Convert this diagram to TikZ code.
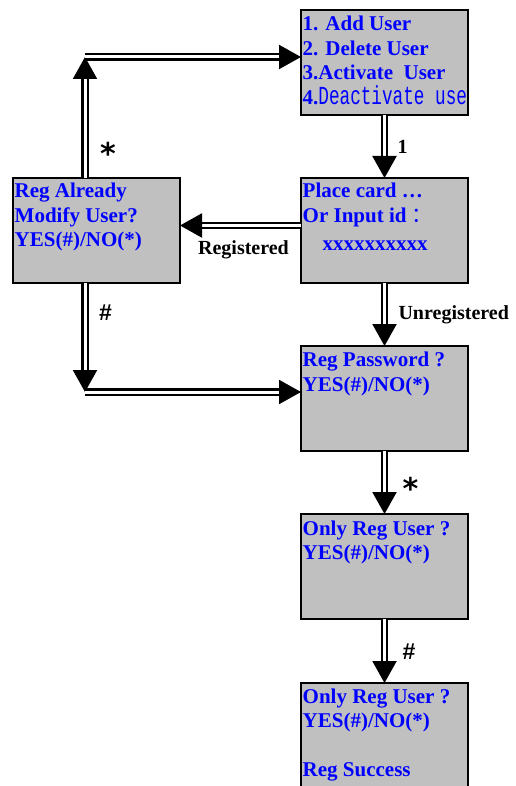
\documentclass[tikz,border=0pt]{standalone}
\usepackage{fontspec}
\setmainfont{Liberation Serif}
\newfontfamily\narrowfont[FakeStretch=0.68]{Liberation Mono}
\newfontfamily\cjkfont{Noto Sans CJK SC}
\newfontfamily\hashfont{Liberation Sans}
\newfontfamily\starfont{DejaVu Sans}
\usetikzlibrary{arrows.meta, positioning}
\definecolor{screengray}{RGB}{192,192,192}
\definecolor{screenblue}{RGB}{0,0,255}
\newcommand{\screenlines}[1]{\parbox[t]{165pt}{\baselineskip=24.5pt #1}}
\newcommand{\starmark}{{\starfont\fontsize{30}{30}\selectfont *}}
\newcommand{\hashmark}{{\hashfont\fontsize{23}{24}\selectfont\#}}

\begin{document}
\begin{tikzpicture}[x=1pt, y=-1pt,
    screen/.style={rectangle, draw=black, line width=1.7pt, fill=screengray, outer sep=0pt,
                   minimum width=167pt, minimum height=105pt, anchor=north west, inner sep=0pt},
    lines/.style={anchor=base west, inner sep=0pt, text=screenblue,
                  font=\fontsize{21}{24.5}\selectfont\bfseries},
    dblarrow/.style={double=white, double distance=3pt, line width=2.1pt,
                     -{Triangle[length=22pt, width=24pt]}},
    tag/.style={inner sep=0pt, font=\fontsize{20}{24}\selectfont\bfseries}]

    \useasboundingbox (0,0) rectangle (515,786);

    % screens
    \node[screen] (menu) at (301,10) {};
    \node[screen] (card) at (301,178) {};
    \node[screen] (already) at (13,178) {};
    \node[screen] (passwd) at (301,346) {};
    \node[screen] (onlyreg) at (301,514) {};
    \node[screen] (success) at (301,683) {};

    \node[lines] at ([shift={(1.5,21)}]menu.north west)
        {\screenlines{1. Add User\\2. Delete User\\3.Activate\ \ User\\4.{\narrowfont\mdseries\fontsize{26}{24.5}\selectfont Deactivate use}}};
    \node[lines] at ([shift={(1.5,20)}]card.north west)
        {\screenlines{Place card \dots\\Or Input id {\cjkfont\mdseries ：}\\[3pt]\hspace*{20pt}xxxxxxxxxx}};
    \node[lines] at ([shift={(1.5,20)}]already.north west)
        {\screenlines{Reg Already\\Modify User?\\YES(\#)/NO(*)}};
    \node[lines] at ([shift={(1.5,20.5)}]passwd.north west)
        {\screenlines{Reg Password ?\\YES(\#)/NO(*)}};
    \node[lines] at ([shift={(1.5,21)}]onlyreg.north west)
        {\screenlines{Only Reg User ?\\YES(\#)/NO(*)}};
    \node[lines] at ([shift={(1.5,20)}]success.north west)
        {\screenlines{Only Reg User ?\\YES(\#)/NO(*)\\[24.5pt]Reg Success}};

    % turning points of the loop
    \coordinate (upturn) at (85,57);
    \coordinate (downturn) at (85,392);

    \draw[dblarrow] (menu) -- (card) node[midway, right=12pt, tag] {1};
    \draw[dblarrow] (card) -- (passwd) node[midway, right=13pt, tag] {Unregistered};
    \draw[dblarrow] (passwd) -- (onlyreg) node[midway, right=17pt, yshift=-6pt, tag] {\starmark};
    \draw[dblarrow] (onlyreg) -- (success) node[midway, right=17pt, yshift=-1pt, tag] {\hashmark};
    \draw[dblarrow] ([yshift=5pt]card.west) -- ([yshift=5pt]card.west -| already.east)
        node[midway, below=14pt, xshift=3pt, tag] {Registered};

    \draw[dblarrow] (already.north -| upturn) -- (upturn)
        node[pos=.25, right=14pt, yshift=-6pt, tag] {\starmark};
    \draw[dblarrow] (upturn) -- (upturn -| menu.west);
    \draw[dblarrow] (already.south -| downturn) -- (downturn)
        node[pos=.26, right=13pt, yshift=-1pt, tag] {\hashmark};
    \draw[dblarrow] (downturn) -- (downturn -| passwd.west);
\end{tikzpicture}
\end{document}
